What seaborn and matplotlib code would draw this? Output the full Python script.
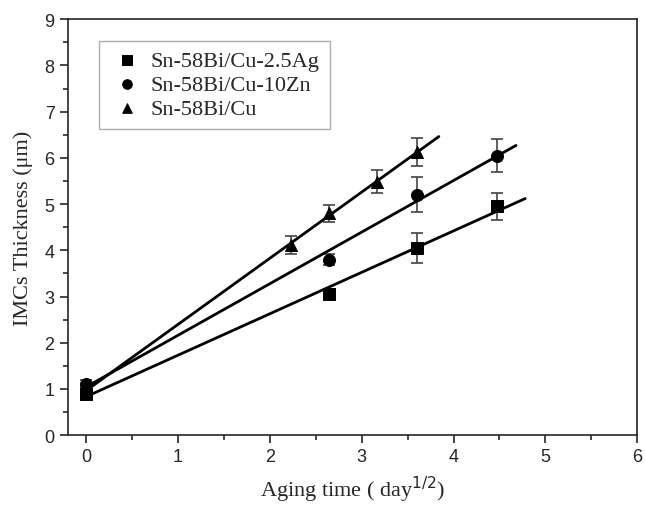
import numpy as np
import pandas as pd
import matplotlib
matplotlib.use("Agg")
import matplotlib.pyplot as plt
import seaborn as sns

# data
series = ["Sn-58Bi/Cu-2.5Ag", "Sn-58Bi/Cu-10Zn", "Sn-58Bi/Cu"]
markers = ["s", "o", "^"]

ag_x = [0, 2.646, 3.606, 4.472]
ag_y = [0.9, 3.05, 4.05, 4.95]
ag_err = [0.08, 0.1, 0.32, 0.3]

zn_x = [0, 2.646, 3.606, 4.472]
zn_y = [1.1, 3.8, 5.2, 6.05]
zn_err = [0.1, 0.12, 0.38, 0.35]

cu_x = [0, 2.236, 2.646, 3.162, 3.606]
cu_y = [0.97, 4.12, 4.8, 5.48, 6.13]
cu_err = [0.08, 0.2, 0.18, 0.25, 0.3]

# end of each fitted line
fit_end = [4.78, 4.68, 3.84]

sns.set_style("ticks")
plt.rcParams["font.family"] = ["Liberation Sans", "DejaVu Sans"]

fig = plt.figure(figsize=(6.45, 5.06), dpi=100)
ax = fig.add_axes([0.105, 0.138, 0.883, 0.822])

xs = [ag_x, zn_x, cu_x]
ys = [ag_y, zn_y, cu_y]
errs = [ag_err, zn_err, cu_err]

for name, m, x, y, e, xe in zip(series, markers, xs, ys, errs, fit_end):
    df = pd.DataFrame({"x": x, "y": y})
    ax.errorbar(x, y, yerr=e, fmt="none", ecolor="#444444", elinewidth=1.2,
                capsize=4, capthick=1.2, zorder=2)
    sns.scatterplot(data=df, x="x", y="y", marker=m, color="black", s=75,
                    edgecolor="black", label=name, ax=ax, zorder=3)
    k, b = np.polyfit(x, y, 1)
    lx = np.array([0, xe])
    sns.lineplot(x=lx, y=k * lx + b, color="black", linewidth=2, ax=ax,
                 zorder=2)

ax.set_xlim(-0.2, 6)
ax.set_ylim(0, 9)
ax.set_xticks(range(0, 7))
ax.set_yticks(range(0, 10))
ax.set_xticks(np.arange(0.5, 6, 1), minor=True)
ax.set_yticks(np.arange(0.5, 9, 1), minor=True)
ax.tick_params(axis="both", which="major", labelsize=13, length=6, width=1.2,
               direction="out", top=False, right=False)
ax.tick_params(axis="both", which="minor", length=3.5, width=1.2,
               direction="out", top=False, right=False)
for sp in ax.spines.values():
    sp.set_linewidth(1.2)
    sp.set_visible(True)

ax.set_xlabel("Aging time ( day$^{1/2}$)", fontsize=16,
              family=["Liberation Serif"], labelpad=6)
ax.set_ylabel("IMCs Thickness (\u03bcm)", fontsize=16,
              family=["Liberation Serif"], labelpad=8)

# the legend should hold markers only
h, l = ax.get_legend_handles_labels()
leg = ax.legend(h[:3], l[:3], loc="upper left", bbox_to_anchor=(0.035, 0.975),
                prop={"family": "Liberation Serif", "size": 16},
                frameon=True, fancybox=False, edgecolor="#999999",
                handletextpad=0.3, handlelength=1.6, borderpad=0.45,
                labelspacing=0.15, markerscale=0.8)
leg.get_frame().set_linewidth(1.0)

fig.savefig("out.png", dpi=100)
